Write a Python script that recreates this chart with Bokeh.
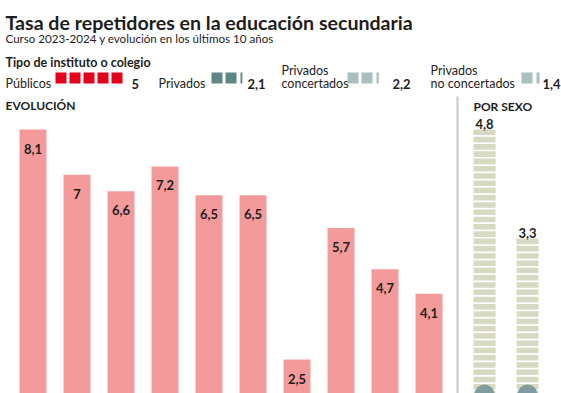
from bokeh.plotting import figure
from bokeh.models import Range1d
from bokeh.embed import file_html
from bokeh.resources import INLINE
from bokeh.core.properties import value

# ---------------- data ----------------
cursos = ["2014-2015", "2015-2016", "2016-2017", "2017-2018", "2018-2019",
          "2019-2020", "2020-2021", "2021-2022", "2022-2023", "2023-2024"]
tasa_evolucion = [8.1, 7.0, 6.6, 7.2, 6.5, 6.5, 2.5, 5.7, 4.7, 4.1]

sexos = ["Chicos", "Chicas"]
tasa_sexo = [4.8, 3.3]

tipos_l1 = ["Públicos", "Privados", "Privados", "Privados"]
tipos_l2 = ["", "", "concertados", "no concertados"]
tasa_tipo = [5.0, 2.1, 2.2, 1.4]
colores_tipo = ["#e2001a", "#5f8686", "#a8c0c0", "#a8c0c0"]

def fmt(v):
    return f"{v:g}".replace(".", ",")

FONT = value("Lato")
INK = "#1d1d1b"

# ---------------- figure (layout range = reference pixels) ----------------
W, H = 561, 393
p = figure(width=W, height=H, x_range=Range1d(0, W), y_range=Range1d(H, 0),
           x_axis_type=None, y_axis_type=None, toolbar_location=None,
           output_backend="svg", min_border=0)
p.grid.visible = False
p.outline_line_color = None
p.background_fill_color = "white"

# evolution scale: bar centres and value->pixel mapping
EVO_C0, EVO_STEP = 32.5, 44.0
EVO_ZERO, EVO_K = 461.7, 41.07
p.extra_x_ranges["evo"] = Range1d((0 - EVO_C0) / EVO_STEP, (W - EVO_C0) / EVO_STEP)
p.extra_y_ranges["evo"] = Range1d((EVO_ZERO - H) / EVO_K, (EVO_ZERO - 0) / EVO_K)

SEX_C0, SEX_STEP = 484.0, 43.0
SEX_ZERO, SEX_K = 478.0, 72.7
p.extra_x_ranges["sex"] = Range1d((0 - SEX_C0) / SEX_STEP, (W - SEX_C0) / SEX_STEP)
p.extra_y_ranges["sex"] = Range1d((SEX_ZERO - H) / SEX_K, (SEX_ZERO - 0) / SEX_K)

# ---------------- titles ----------------
p.text(x=[5], y=[22], text=["Tasa de repetidores en la educación secundaria"],
       text_font=FONT, text_font_size="19.6px", text_font_style="bold",
       text_color=INK, text_baseline="alphabetic")
p.text(x=[5], y=[38], text=["Curso 2023-2024 y evolución en los últimos 10 años"],
       text_font=FONT, text_font_size="11.6px", text_color=INK, text_baseline="alphabetic")
p.text(x=[5], y=[62], text=["Tipo de instituto o colegio"],
       text_font=FONT, text_font_size="12.5px", text_font_style="bold",
       text_color=INK, text_baseline="alphabetic")

# ---------------- legend by type ----------------
lab_x = [5, 158, 281, 430]
sq_x = [55, 211, 347, 521]
val_x = [131, 247, 392, 542]
SQ, STEP = 11, 14
LAB_FS = "12.5px"
for i, v in enumerate(tasa_tipo):
    if tipos_l2[i]:
        p.text(x=[lab_x[i]], y=[70], text=[tipos_l1[i]], text_font=FONT, text_font_size=LAB_FS,
               text_color=INK, text_baseline="alphabetic")
        p.text(x=[lab_x[i]], y=[83], text=[tipos_l2[i]], text_font=FONT, text_font_size=LAB_FS,
               text_color=INK, text_baseline="alphabetic")
    else:
        p.text(x=[lab_x[i]], y=[83], text=[tipos_l1[i]], text_font=FONT, text_font_size=LAB_FS,
               text_color=INK, text_baseline="alphabetic")
    n = int(v + 1e-9)
    frac = round(v - n, 2)
    lefts = [sq_x[i] + k * STEP for k in range(n)]
    rights = [l + SQ for l in lefts]
    if frac > 0:
        l = sq_x[i] + n * STEP + 1
        lefts.append(l)
        rights.append(l + 1.5 + frac * 4)
    p.quad(left=lefts, right=rights, top=[72] * len(lefts), bottom=[83] * len(lefts),
           fill_color=colores_tipo[i], line_color=None)
    p.text(x=[val_x[i]], y=[83], text=[fmt(v)], text_font=FONT, text_font_size="13px",
           text_font_style="bold", text_color=INK, text_baseline="alphabetic")

# ---------------- section headers ----------------
p.text(x=[5], y=[105], text=["EVOLUCIÓN"], text_font=FONT, text_font_size="12px",
       text_font_style="bold", text_color=INK, text_baseline="alphabetic")
p.text(x=[473], y=[106], text=["POR SEXO"], text_font=FONT, text_font_size="12px",
       text_font_style="bold", text_color=INK, text_baseline="alphabetic")
p.segment(x0=[457], y0=[96], x1=[457], y1=[H], line_color="#c8c8c8", line_width=2)

# ---------------- evolution bars ----------------
idx = list(range(len(cursos)))
p.vbar(x=idx, top=tasa_evolucion, bottom=0, width=27 / EVO_STEP,
       fill_color="#f49a9b", line_color=None, x_range_name="evo", y_range_name="evo")
p.text(x=idx, y=tasa_evolucion, text=[fmt(v) for v in tasa_evolucion], y_offset=19,
       text_font=FONT, text_font_size="13px", text_font_style="bold", text_color=INK,
       text_align="center", text_baseline="alphabetic", x_range_name="evo", y_range_name="evo")

# ---------------- by sex (striped bars) ----------------
GAP = 1.7 / SEX_K
xs, tops, bots = [], [], []
for i, v in enumerate(tasa_sexo):
    n = int(round(v * 10))
    for k in range(n):
        t = v - k * 0.1
        xs.append(i)
        tops.append(t)
        bots.append(t - 0.1 + GAP)
p.vbar(x=xs, top=tops, bottom=bots, width=22 / SEX_STEP, fill_color="#d8d9c3",
       line_color=None, x_range_name="sex", y_range_name="sex")
sidx = list(range(len(sexos)))
p.text(x=sidx, y=tasa_sexo, text=[fmt(v) for v in tasa_sexo], y_offset=-6,
       text_font=FONT, text_font_size="13px", text_font_style="bold", text_color=INK,
       text_align="center", text_baseline="alphabetic", x_range_name="sex", y_range_name="sex")
y_head = (SEX_ZERO - 394) / SEX_K
p.scatter(x=sidx, y=[y_head] * len(sidx), size=20, marker="circle",
          fill_color="#7f9c9e", line_color=None, x_range_name="sex", y_range_name="sex")

open("out.html", "w").write(file_html(p, INLINE))
